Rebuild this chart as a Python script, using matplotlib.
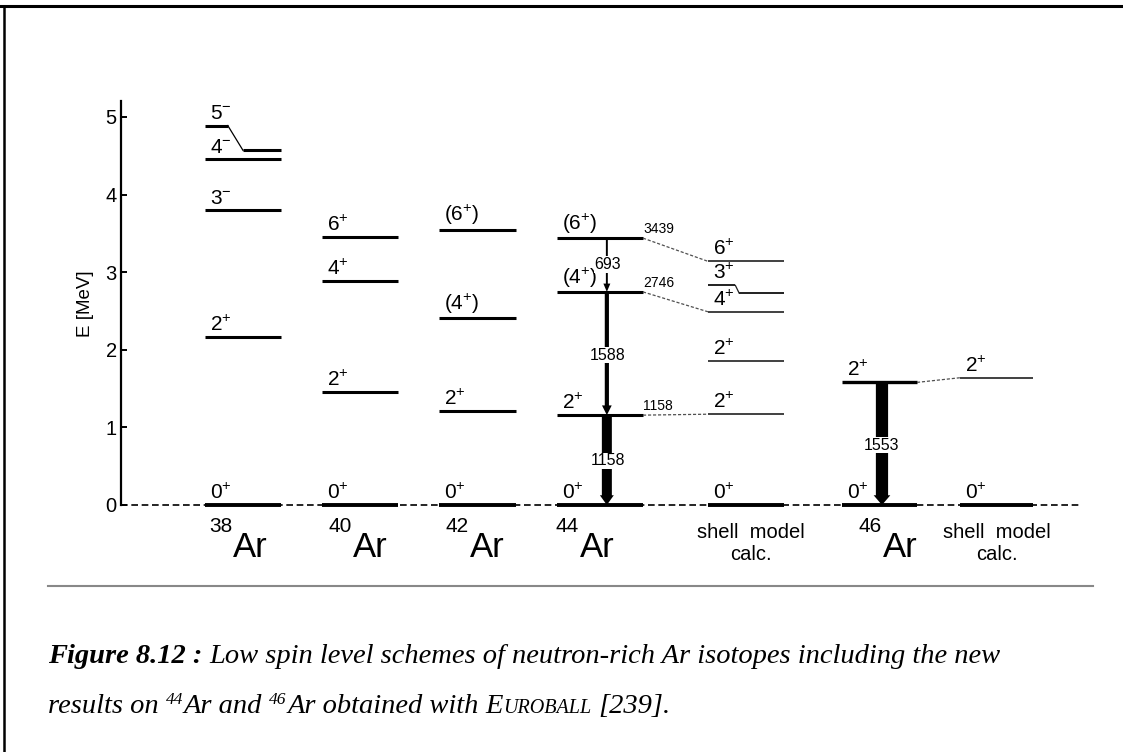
import matplotlib
matplotlib.use("Agg")
import matplotlib.pyplot as plt
from matplotlib.lines import Line2D
from matplotlib.patches import FancyArrowPatch

plt.rcParams["font.family"] = ["Liberation Sans", "DejaVu Sans"]

W, H = 1123, 752

# level energies (MeV) and spins, one list per column
e_38 = [0.0, 2.16, 3.80, 4.46]
j_38 = ["0^{+}", "2^{+}", "3^{-}", "4^{-}"]
e_38_kink = 4.57          # 5- level, drawn with a kink
e_38_kink_label = 4.89
e_40 = [0.0, 1.46, 2.89, 3.45]
j_40 = ["0^{+}", "2^{+}", "4^{+}", "6^{+}"]
e_42 = [0.0, 1.21, 2.41, 3.55]
j_42 = ["0^{+}", "2^{+}", "(4^{+})", "(6^{+})"]
e_44 = [0.0, 1.158, 2.746, 3.439]
j_44 = ["0^{+}", "2^{+}", "(4^{+})", "(6^{+})"]
lab_44 = ["", "1158", "2746", "3439"]
e_sm44 = [0.0, 1.17, 1.86, 2.49, 3.14]
j_sm44 = ["0^{+}", "2^{+}", "2^{+}", "4^{+}", "6^{+}"]
e_sm44_kink = 2.73        # 3+ level, drawn with a kink
e_sm44_kink_label = 2.83
e_46 = [0.0, 1.58]
j_46 = ["0^{+}", "2^{+}"]
e_sm46 = [0.0, 1.64]
j_sm46 = ["0^{+}", "2^{+}"]

# gamma transitions
g44_from = [3.439, 2.746, 1.158]
g44_to = [2.746, 1.158, 0.0]
g44_text = ["693", "1588", "1158"]
g44_text_e = [3.10, 1.93, 0.57]
g46_from = [1.58]
g46_to = [0.0]
g46_text = ["1553"]
g46_text_e = [0.77]

# links between experiment and shell model
link44_exp = [3.439, 2.746, 1.158]
link44_sm = [3.14, 2.49, 1.17]
link46_exp = [1.58]
link46_sm = [1.64]

fig = plt.figure(figsize=(W / 100, H / 100), dpi=100)
ax = fig.add_axes([121 / W, (H - 505) / H, 964 / W, 5.2 * 77.6 / H])
ax.set_xlim(0, 10)
ax.set_ylim(0, 5.2)
for s in ["top", "right", "bottom"]:
    ax.spines[s].set_visible(False)
ax.spines["left"].set_linewidth(1.6)
ax.set_xticks([])
ax.set_yticks(range(6))
ax.tick_params(axis="y", direction="in", length=4.5, width=1.4, labelsize=14.5, pad=3)
ax.set_ylabel("E [MeV]", fontsize=13.5, labelpad=8)

# column extents (axis units)
x38, x40, x42, x44, xs44, x46, xs46 = (0.871, 1.660), (2.085, 2.873), (3.299, 4.098), \
    (4.523, 5.415), (6.089, 6.878), (7.479, 8.257), (8.703, 9.461)

# ground state dashed line
ax.plot([0, 9.97], [0, 0], color="k", lw=1.2, dashes=(4, 2.2), clip_on=False, zorder=1)


def level(x, e, j, lw=2.2, color="k", dx=0.05):
    ax.plot(x, [e, e], color=color, lw=lw, solid_capstyle="butt", clip_on=False, zorder=2)
    if j:
        ax.annotate(r"$\mathregular{%s}$" % j, (x[0] + dx, e), xytext=(0, 1.5),
                    textcoords="offset points", fontsize=15, va="bottom", ha="left")


def column(x, es, js, lw=2.2, color="k", dx=0.05):
    for e, j in zip(es, js):
        level(x, e, j, lw=(2.8 if e == 0 else lw), color=("k" if e == 0 else color), dx=dx)


def kink(x, e, e_lab, j, f1, f2, lw, color, dx=0.05):
    w = x[1] - x[0]
    ax.plot([x[0], x[0] + f1 * w], [e_lab, e_lab], color=color, lw=lw,
            solid_capstyle="butt", clip_on=False, zorder=2)
    ax.plot([x[0] + f1 * w, x[0] + f2 * w], [e_lab, e], color=color, lw=0.9,
            clip_on=False, zorder=2)
    ax.plot([x[0] + f2 * w, x[1]], [e, e], color=color, lw=lw,
            solid_capstyle="butt", clip_on=False, zorder=2)
    ax.annotate(r"$\mathregular{%s}$" % j, (x[0] + dx, e_lab), xytext=(0, 1.5),
                textcoords="offset points", fontsize=15, va="bottom", ha="left")


column(x38, e_38, j_38)
kink(x38, e_38_kink, e_38_kink_label, "5^{-}", 0.30, 0.50, 2.2, "k")
column(x40, e_40, j_40)
column(x42, e_42, j_42)
column(x44, e_44, j_44, dx=0.05)
column(xs44, e_sm44, j_sm44, lw=1.4, color="#404040")
kink(xs44, e_sm44_kink, e_sm44_kink_label, "3^{+}", 0.36, 0.41, 1.4, "#202020")
column(x46, e_46, j_46, lw=2.4)
column(xs46, e_sm46, j_sm46, lw=1.4, color="#404040")

for e, t in zip(e_44, lab_44):
    if t:
        ax.annotate(t, (x44[1], e), xytext=(0, 1.5), textcoords="offset points",
                    fontsize=10, va="bottom", ha="left")

for a, b in zip(link44_exp, link44_sm):
    ax.plot([x44[1], xs44[0]], [a, b], color="#505050", lw=0.9, dashes=(2.5, 1.5))
for a, b in zip(link46_exp, link46_sm):
    ax.plot([x46[1], xs46[0]], [a, b], color="#505050", lw=0.9, dashes=(2.5, 1.5))


def gamma(x, e0, e1, tw, hw, hl):
    p = FancyArrowPatch((x, e0), (x, e1), mutation_scale=1, color="k", lw=0,
                        arrowstyle="simple,head_length=%g,head_width=%g,tail_width=%g" % (hl, hw, tw),
                        shrinkA=0, shrinkB=0, clip_on=False, zorder=3)
    ax.add_patch(p)


g44_style = [(1.4, 5, 6), (3.0, 7, 7), (7.2, 10, 7)]
for a, b, st in zip(g44_from, g44_to, g44_style):
    gamma(5.04, a, b, *st)
for t, e in zip(g44_text, g44_text_e):
    ax.text(5.05, e, t, ha="center", va="center", fontsize=11.5, zorder=4,
            bbox=dict(fc="white", ec="none", pad=0.5))
for a, b in zip(g46_from, g46_to):
    gamma(7.894, a, b, 8.8, 12, 7)
for t, e in zip(g46_text, g46_text_e):
    ax.text(7.894, e, t, ha="center", va="center", fontsize=11.5, zorder=4,
            bbox=dict(fc="white", ec="none", pad=0.5))

# isotope labels under the columns
iso_mass = ["38", "40", "42", "44", "46"]
iso_x = [1.162, 2.407, 3.62, 4.76, 7.905]
for m, xx in zip(iso_mass, iso_x):
    ax.text(xx, -0.67, "Ar", fontsize=25, ha="left", va="baseline", clip_on=False)
    ax.text(xx - 0.01, -0.35, m, fontsize=15, ha="right", va="baseline", clip_on=False)
for xx in [6.53, 9.09]:
    ax.text(xx, -0.43, "shell  model", fontsize=14.5, ha="center", va="baseline", clip_on=False)
    ax.text(xx, -0.71, "calc.", fontsize=14.5, ha="center", va="baseline", clip_on=False)

# page decoration: frame and separator
fig.add_artist(Line2D([0, 1], [1 - 6 / H] * 2, color="k", lw=2.2))
fig.add_artist(Line2D([4 / W] * 2, [0, 1 - 6 / H], color="k", lw=1.8))
fig.add_artist(Line2D([48 / W, 1093 / W], [1 - 586 / H] * 2, color="#888888", lw=1.5))

# caption
serif = ["Liberation Serif", "DejaVu Serif"]


def caption(pieces, x_px, base_px):
    prev = None
    for txt, size, weight, gap, rise in pieces:
        y = H - base_px + rise
        if prev is None:
            t = ax.annotate(txt, (x_px, y), xycoords="figure pixels", fontsize=size,
                            family=serif, style="italic", weight=weight,
                            va="baseline", ha="left", annotation_clip=False)
        else:
            t = ax.annotate(txt, (1, y), xycoords=(prev, "figure pixels"), xytext=(gap, 0),
                            textcoords="offset points", fontsize=size, family=serif,
                            style="italic", weight=weight, va="baseline", ha="left",
                            annotation_clip=False)
        prev = t


fs = 20.5
caption([("Figure 8.12 :", fs, "bold", 0, 0),
         ("Low spin level schemes of neutron-rich Ar isotopes including the new", fs, "normal", 5, 0)],
        48, 663)
caption([("results on", fs, "normal", 0, 0),
         ("44", 12.5, "normal", 5, 9),
         ("Ar and", fs, "normal", 0.5, 0),
         ("46", 12.5, "normal", 5, 9),
         ("Ar obtained with", fs, "normal", 0.5, 0),
         ("E", fs, "normal", 5, 0),
         ("UROBALL", 14.5, "normal", 0.3, 0),
         ("[239].", fs, "normal", 5, 0)],
        48, 713)

fig.savefig("out.png", dpi=100)
